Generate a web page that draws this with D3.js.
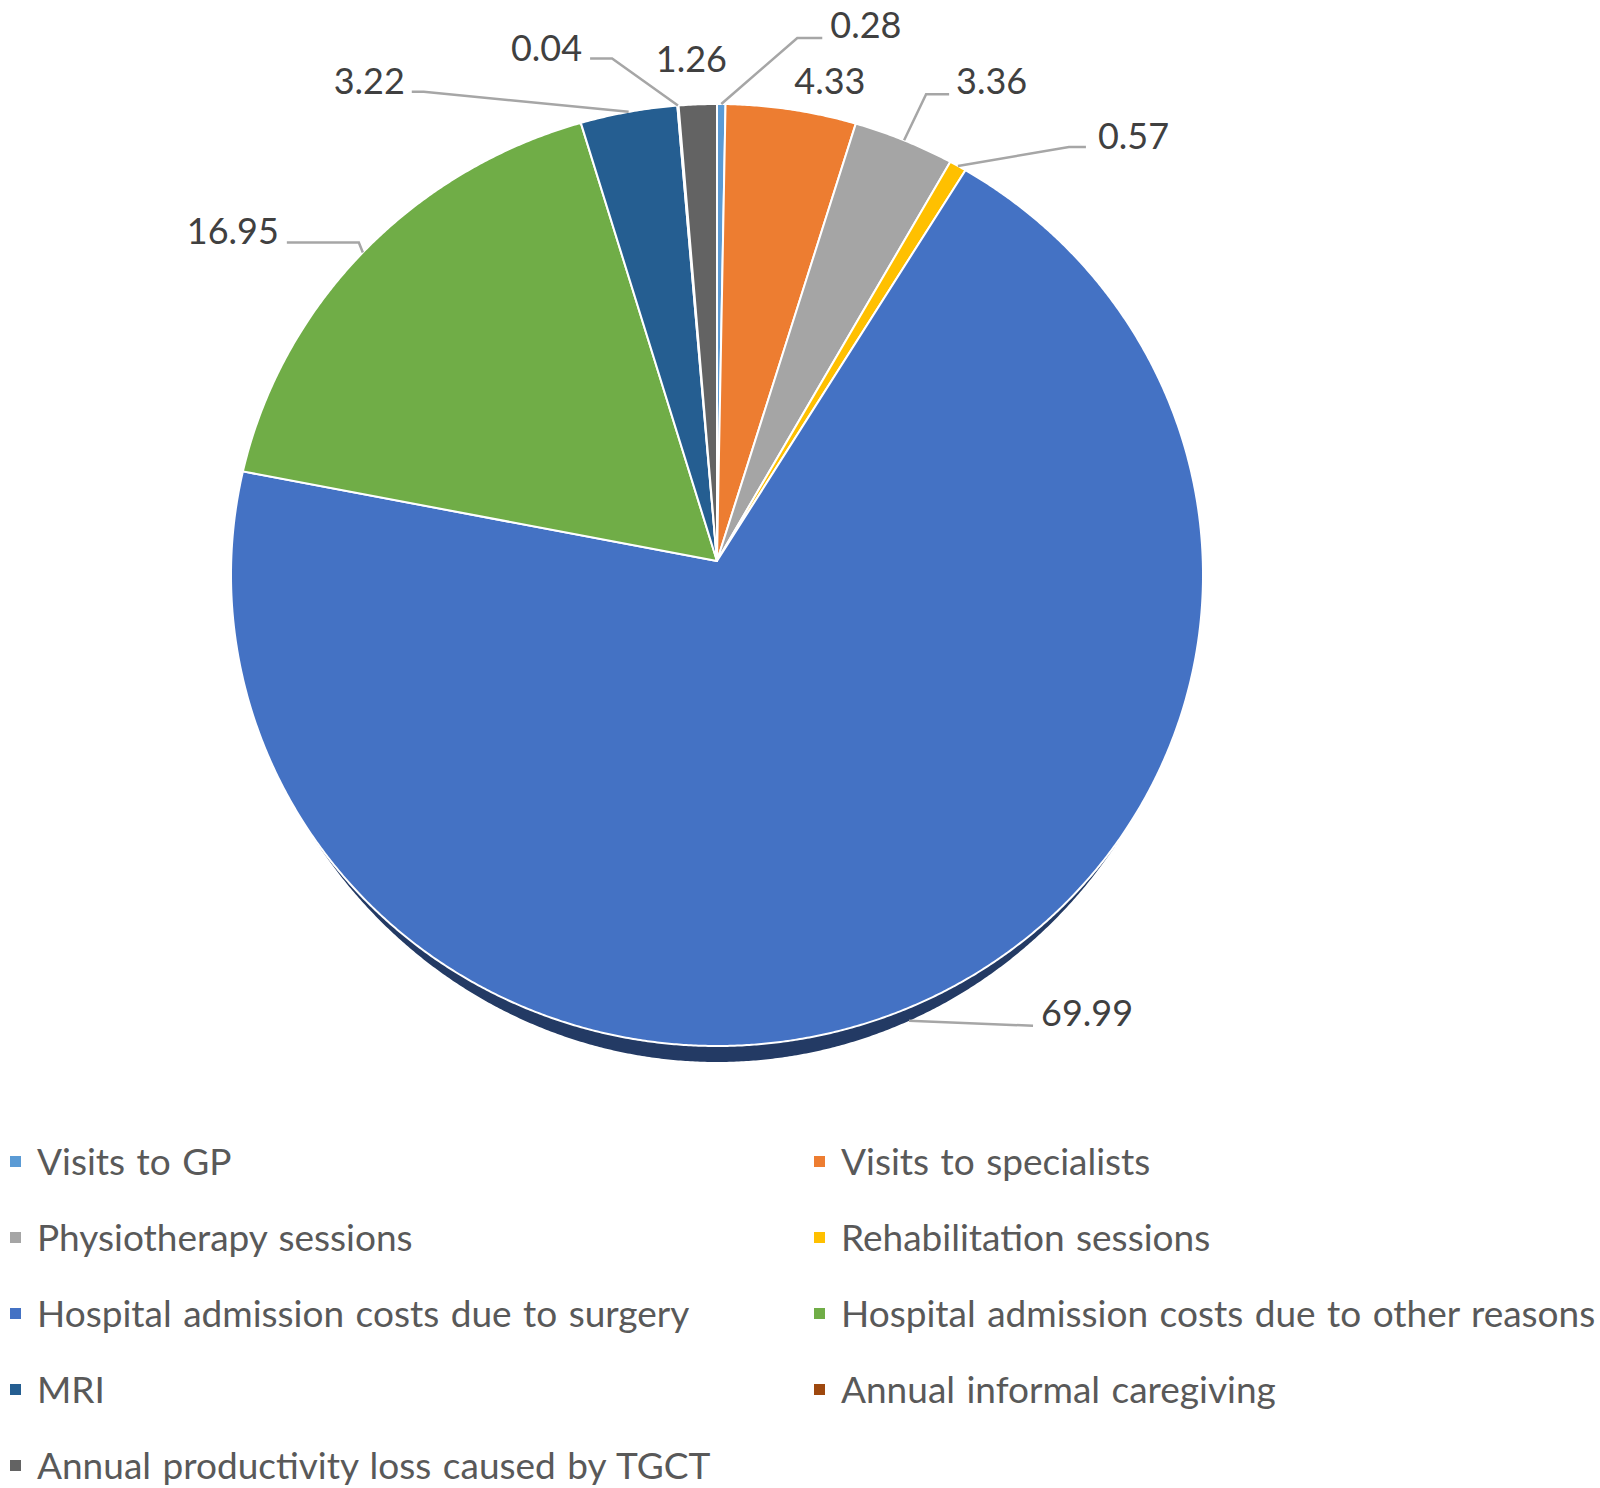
<!DOCTYPE html>
<html>
<head>
<meta charset="utf-8">
<script src="https://cdn.jsdelivr.net/npm/d3@7"></script>
<style>
  body { margin: 0; background: #fff; }
  svg { display: block; }
  text { font-family: Lato, 'Open Sans', sans-serif; }
</style>
</head>
<body>
<svg id="chart"></svg>
<script>
const categories = [
  'Visits to GP',
  'Visits to specialists',
  'Physiotherapy sessions',
  'Rehabilitation sessions',
  'Hospital admission costs due to surgery',
  'Hospital admission costs due to other reasons',
  'MRI',
  'Annual informal caregiving',
  'Annual productivity loss caused by TGCT'
];
const values = [0.28, 4.33, 3.36, 0.57, 69.99, 16.95, 3.22, 0.04, 1.26];
const sliceColors = ['#5b9bd5', '#ed7d31', '#a5a5a5', '#ffc000', '#4472c4', '#70ad47', '#255e91', '#9e480e', '#636363'];
const valueLabels = values.map(v => v.toFixed(2));

const width = 1600, height = 1488;

// pie geometry (slightly tilted, Excel-style 3D)
const cx = 717, cy = 575, rx = 486, ry = 471;
const apex = [717, 561];
const depth = 16, sideK = 0.546;

// text position of each value label relative to its slice rim point, plus leader elbows
// (elbow x is measured from the text's near edge)
const labelSpots = [
  { dx: 109, dy: -66, elbow: [[-33, 0], [-8, 0]] },    // 0.28
  { dx: 3, dy: -16, elbow: null },                     // 4.33
  { dx: 52, dy: -46, elbow: [[-30, 0], [-7, 0]] },     // 3.36
  { dx: 140, dy: -17, elbow: [[-29, -2], [-12, -2]] }, // 0.57
  { dx: 132, dy: 5, elbow: [[-8, 0]] },                // 69.99
  { dx: -176, dy: -8, elbow: [[80, -2], [8, -2]] },    // 16.95
  { dx: -295, dy: -18, elbow: [[19, -2], [7, -2]] },   // 3.22
  { dx: -167, dy: -45, elbow: [[30, -2], [8, -2]] },   // 0.04
  { dx: -42, dy: -32, elbow: null }                    // 1.26
];

const svg = d3.select('#chart')
  .attr('width', width)
  .attr('height', height);

const pie = d3.pie().sort(null).value(d => d)
const arcs = pie(values)

const rim = a => [cx + rx * Math.sin(a), cy - ry * Math.cos(a)];
const drop = a => depth * Math.max(0, (-Math.cos(a) - sideK) / (1 - sideK));
const line = d3.line();

const arcPoints = (a0, a1, off) => {
  const n = Math.max(2, Math.ceil((a1 - a0) / 0.005));
  return d3.range(n + 1).map(i => {
    const a = a0 + (a1 - a0) * i / n;
    const p = rim(a);
    return off ? [p[0], p[1] + drop(a)] : p;
  });
};

// side of the pie, visible along the lower rim
const sideStart = Math.PI - Math.acos(sideK), sideEnd = Math.PI + Math.acos(sideK);
svg.append('g')
  .selectAll('path')
  .data(arcs.filter(d => d.endAngle > sideStart && d.startAngle < sideEnd))
  .join('path')
  .attr('d', d => {
    const a0 = Math.max(d.startAngle, sideStart), a1 = Math.min(d.endAngle, sideEnd);
    return line(arcPoints(a0, a1, false).concat(arcPoints(a0, a1, true).reverse())) + 'Z';
  })
  .attr('fill', d => d3.color(sliceColors[d.index]).darker(1.9));

// top face
svg.append('g')
  .selectAll('path')
  .data(arcs)
  .join('path')
  .attr('d', d => line([apex].concat(arcPoints(d.startAngle, d.endAngle, false))) + 'Z')
  .attr('fill', d => sliceColors[d.index])
  .attr('stroke', '#fff')
  .attr('stroke-width', 2)
  .attr('stroke-linejoin', 'round');

// value labels with leader lines
const labelG = svg.append('g');
arcs.forEach((d, i) => {
  const mid = (d.startAngle + d.endAngle) / 2;
  const p = rim(mid);
  p[1] += drop(mid);
  const spot = labelSpots[i];
  const tx = p[0] + spot.dx, ty = p[1] + spot.dy;
  const txt = labelG.append('text')
    .attr('x', tx)
    .attr('y', ty)
    .attr('font-size', 36)
    .attr('fill', '#404040')
    .text(valueLabels[i]);
  if (spot.elbow) {
    const left = spot.dx < 0;
    const bw = txt.node().getComputedTextLength();
    const pts = [p].concat(spot.elbow.map(e => [left ? tx + bw + e[0] : tx + e[0], ty + e[1]]));
    labelG.append('path')
      .attr('d', line(pts))
      .attr('fill', 'none')
      .attr('stroke', '#a6a6a6')
      .attr('stroke-width', 2.5);
  }
});

// legend, two columns
const legendX = [10, 814], legendY0 = 1162, legendStep = 76;
const legend = svg.append('g')
  .selectAll('g')
  .data(categories)
  .join('g')
  .attr('transform', (d, i) => `translate(${legendX[i % 2]},${legendY0 + Math.floor(i / 2) * legendStep})`);

legend.append('rect')
  .attr('x', 0)
  .attr('y', -6)
  .attr('width', 11)
  .attr('height', 11)
  .attr('fill', (d, i) => sliceColors[i]);

legend.append('text')
  .attr('x', 27)
  .attr('y', 0)
  .attr('dy', '0.36em')
  .attr('font-size', 37)
  .attr('word-spacing', 2)
  .attr('fill', '#595959')
  .text(d => d);
</script>
</body>
</html>
